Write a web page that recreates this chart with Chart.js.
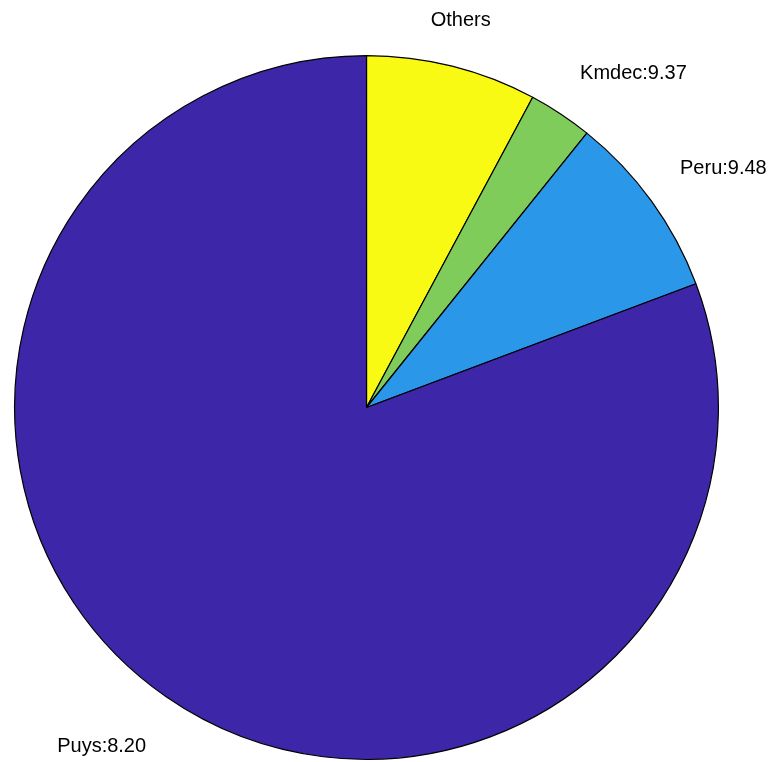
<!DOCTYPE html>
<html>
<head>
<meta charset="utf-8">
<script src="https://cdn.jsdelivr.net/npm/chart.js@4/dist/chart.umd.min.js"></script>
<style>
html,body{margin:0;padding:0;background:#fff;}
#wrap{width:774px;height:762px;position:relative;}
</style>
</head>
<body>
<div id="wrap"><canvas id="c" width="774" height="762"></canvas></div>
<script>
// Categories in drawing order (clockwise from 12 o'clock)
const categories = ['Others', 'Kmdec', 'Peru', 'Puys'];
// Slice shares (percent of the pie)
const shares = [7.83, 2.94, 8.51, 80.72];
// Text labels shown beside the slices
const sliceLabels = ['Others', 'Kmdec:9.37', 'Peru:9.48', 'Puys:8.20'];
const sliceColors = ['#F9FA14', '#80CC5A', '#2B97E9', '#3E26A8'];

const labelPlugin = {
  id: 'sliceLabels',
  afterDraw(chart) {
    const meta = chart.getDatasetMeta(0);
    const ctx = chart.ctx;
    ctx.save();
    ctx.font = '20px "Liberation Sans", Arial, sans-serif';
    ctx.fillStyle = '#000';
    ctx.textBaseline = 'alphabetic';
    meta.data.forEach((arc, i) => {
      const p = arc.getProps(['x','y','startAngle','endAngle','outerRadius'], true);
      const mid = (p.startAngle + p.endAngle) / 2;
      const dx = Math.cos(mid), dy = Math.sin(mid);
      const r = p.outerRadius * 1.1;
      const ax = p.x + r * dx, ay = p.y + r * dy;
      let align = 'center';
      if (Math.abs(dx) >= 0.3) align = dx > 0 ? 'left' : 'right';
      ctx.textAlign = align;
      const by = dy < 0 ? ay - 6 : ay + 26;
      ctx.fillText(sliceLabels[i], ax, by);
    });
    ctx.restore();
  }
};

new Chart(document.getElementById('c'), {
  type: 'pie',
  data: {
    labels: categories,
    datasets: [{
      data: shares,
      backgroundColor: sliceColors,
      borderColor: '#000',
      borderWidth: 1.2,
      borderAlign: 'center'
    }]
  },
  options: {
    responsive: false,
    animation: false,
    rotation: 0,
    layout: { padding: { top: 55, left: 14, right: 55, bottom: 2 } },
    plugins: {
      legend: { display: false },
      tooltip: { enabled: false }
    }
  },
  plugins: [labelPlugin]
});
</script>
</body>
</html>
